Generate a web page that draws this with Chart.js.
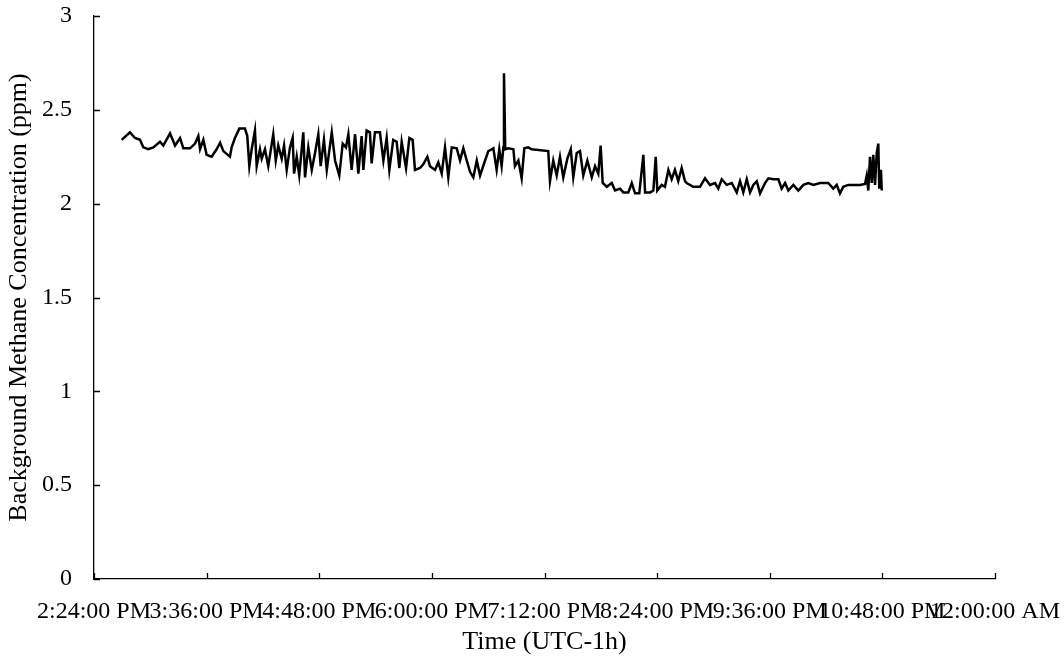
<!DOCTYPE html>
<html>
<head>
<meta charset="utf-8">
<script src="https://cdn.jsdelivr.net/npm/chart.js@4"></script>
<style>
  body { margin: 0; background: #fff; }
  #wrap { width: 1064px; height: 660px; }
</style>
</head>
<body>
<div id="wrap"><canvas id="methane-chart" width="1064" height="660"></canvas></div>
<script>
// time in minutes after midnight (local, UTC-1h)
const times = [
  881.7, 887, 890.2, 893.4, 895.5, 898.7, 901.9, 906.2, 908.3, 912.6,
  915.8, 919, 921.1, 925.4, 928.6, 930.7, 931.8, 933.9, 936, 939.2,
  942.4, 944.6, 946.7, 950.9, 952, 954.1, 956.9, 960.5, 962, 963.3,
  964.8, 966.9, 968, 970.1, 971.2, 973.3, 975.4, 978.6, 980.2, 981.8,
  984, 985.5, 987.2, 989.3, 991, 991.9, 993.6, 995.2, 997.8, 998.9,
  1001, 1003.2, 1005.3, 1007.4, 1008.9, 1011, 1012.8, 1016, 1018.1, 1020.8,
  1023, 1025.1, 1026.6, 1028.7, 1030.9, 1033, 1035.1, 1036.2, 1038.3, 1040.4,
  1041.5, 1043.6, 1046.8, 1049, 1051.1, 1052.8, 1055.3, 1057.5, 1059.2, 1060.7,
  1063.5, 1065.6, 1067.7, 1069.2, 1072.4, 1074.5, 1077.1, 1078.8, 1082, 1084.1,
  1086.3, 1088.4, 1090.5, 1092.7, 1095.9, 1098, 1100.1, 1102.3, 1104.4, 1106.5,
  1108.7, 1110.8, 1114, 1116.1, 1118.3, 1119.3, 1121.4, 1123.1, 1124.6, 1125.7,
  1126.1, 1126.9, 1128.9, 1132.1, 1133.1, 1135.3, 1137.4, 1139.1, 1141.6, 1143.8,
  1154.4, 1155.5, 1157.6, 1159.8, 1161.9, 1164, 1166.6, 1168.8, 1170.4, 1172.6,
  1174.7, 1176.8, 1179.4, 1182.2, 1184.3, 1186.4, 1187.9, 1189.2, 1191.8, 1195,
  1197.1, 1200.3, 1202.4, 1205.6, 1207.8, 1209.9, 1212.6, 1215.2, 1216.3, 1219.5,
  1221.6, 1223.1, 1224.1, 1226.9, 1229, 1231.2, 1233.3, 1235.4, 1237.5, 1239.7,
  1241.8, 1242.9, 1247.1, 1251.4, 1254.6, 1257.8, 1261, 1263.1, 1265.3, 1268.5,
  1271.7, 1274.9, 1277, 1279.1, 1281.3, 1283.4, 1285.5, 1287.7, 1289.8, 1293,
  1295.1, 1298.3, 1301.5, 1303.6, 1305.8, 1307.9, 1311.1, 1314.3, 1317.5, 1320.7,
  1323.9, 1328.1, 1333.4, 1336.6, 1338.8, 1340.9, 1343, 1346.2, 1349.4, 1353.7,
  1356.9, 1358, 1359, 1360.1, 1361.2, 1362.2, 1363.3, 1364.4, 1365.4, 1366,
  1367.1, 1367.6
];

// background methane concentration (ppm)
const methane = [
  2.34, 2.38, 2.35, 2.34, 2.30, 2.29, 2.30, 2.33, 2.31, 2.375,
  2.31, 2.35, 2.295, 2.295, 2.32, 2.36, 2.29, 2.34, 2.26, 2.25,
  2.29, 2.325, 2.28, 2.25, 2.30, 2.35, 2.40, 2.40, 2.36, 2.20,
  2.29, 2.39, 2.20, 2.29, 2.24, 2.29, 2.20, 2.37, 2.23, 2.31,
  2.24, 2.31, 2.18, 2.30, 2.35, 2.16, 2.25, 2.15, 2.38, 2.14,
  2.30, 2.18, 2.27, 2.37, 2.20, 2.34, 2.18, 2.38, 2.23, 2.15,
  2.32, 2.30, 2.37, 2.18, 2.37, 2.16, 2.36, 2.18, 2.39, 2.38,
  2.215, 2.38, 2.38, 2.23, 2.35, 2.18, 2.34, 2.33, 2.19, 2.33,
  2.19, 2.35, 2.34, 2.18, 2.19, 2.21, 2.25, 2.20, 2.18, 2.22,
  2.16, 2.30, 2.14, 2.30, 2.295, 2.23, 2.295, 2.23, 2.17, 2.14,
  2.23, 2.15, 2.23, 2.28, 2.29, 2.295, 2.18, 2.29, 2.20, 2.30,
  2.695, 2.29, 2.295, 2.29, 2.20, 2.23, 2.135, 2.295, 2.30, 2.29,
  2.28, 2.12, 2.23, 2.15, 2.25, 2.14, 2.24, 2.29, 2.14, 2.27,
  2.28, 2.15, 2.23, 2.14, 2.20, 2.16, 2.31, 2.11, 2.09, 2.11,
  2.07, 2.08, 2.06, 2.06, 2.11, 2.055, 2.055, 2.26, 2.06, 2.06,
  2.07, 2.25, 2.07, 2.10, 2.09, 2.18, 2.13, 2.18, 2.12, 2.19,
  2.12, 2.11, 2.09, 2.09, 2.135, 2.10, 2.11, 2.08, 2.13, 2.10,
  2.11, 2.06, 2.12, 2.06, 2.13, 2.06, 2.10, 2.12, 2.055, 2.11,
  2.135, 2.13, 2.13, 2.08, 2.11, 2.07, 2.10, 2.07, 2.10, 2.11,
  2.10, 2.11, 2.11, 2.08, 2.10, 2.055, 2.09, 2.10, 2.10, 2.10,
  2.105, 2.15, 2.07, 2.25, 2.11, 2.26, 2.10, 2.27, 2.32, 2.08,
  2.18, 2.07
];

const xMin = 864;   // 2:24 PM
const xMax = 1440;  // 12:00 AM
const xStep = 72;

function fmtTime(mins) {
  const m = Math.round(mins) % 1440;
  let h = Math.floor(m / 60);
  const mm = String(m % 60).padStart(2, '0');
  const ampm = h >= 12 ? 'PM' : 'AM';
  h = h % 12;
  if (h === 0) h = 12;
  return `${h}:${mm}:00 ${ampm}`;
}

// tick marks drawn inside the plot area, like the original
const innerTicks = {
  id: 'innerTicks',
  afterDraw(chart) {
    const { ctx, scales: { x, y } } = chart;
    ctx.save();
    ctx.strokeStyle = '#000';
    ctx.lineWidth = 1.3;
    ctx.beginPath();
    y.ticks.forEach(t => {
      const py = Math.round(y.getPixelForValue(t.value)) + 0.5;
      ctx.moveTo(x.left, py);
      ctx.lineTo(x.left + 6, py);
    });
    x.ticks.forEach(t => {
      const px = Math.round(x.getPixelForValue(t.value)) + 0.5;
      ctx.moveTo(px, y.bottom);
      ctx.lineTo(px, y.bottom - 6);
    });
    ctx.stroke();
    ctx.restore();
  }
};

const serif = 'Liberation Serif, Times New Roman, serif';

new Chart(document.getElementById('methane-chart').getContext('2d'), {
  type: 'line',
  data: {
    datasets: [{
      data: times.map((t, i) => ({ x: t, y: methane[i] })),
      borderColor: '#000',
      borderWidth: 2.5,
      pointRadius: 0,
      tension: 0,
      fill: false
    }]
  },
  options: {
    responsive: false,
    animation: false,
    layout: { padding: { top: 16, right: 69, left: 0, bottom: 0 } },
    plugins: { legend: { display: false }, tooltip: { enabled: false } },
    scales: {
      x: {
        type: 'linear',
        min: xMin,
        max: xMax,
        afterFit: s => {
          s.height = 81;
          s.paddingLeft = 0;
          s.paddingRight = 0;
        },
        ticks: {
          stepSize: xStep,
          autoSkip: false,
          maxRotation: 0,
          minRotation: 0,
          padding: 18,
          color: '#000',
          font: { family: serif, size: 24 },
          callback: v => fmtTime(v)
        },
        grid: { display: false, drawTicks: false },
        border: { display: true, color: '#000', width: 1.3 },
        title: {
          display: true,
          text: 'Time (UTC-1h)',
          color: '#000',
          font: { family: serif, size: 26 },
          padding: { top: 0, bottom: 2 }
        }
      },
      y: {
        min: 0,
        max: 3,
        afterFit: s => {
          s.width = 94;
          s.paddingTop = 0;
          s.paddingBottom = 0;
        },
        ticks: {
          stepSize: 0.5,
          padding: 22,
          color: '#000',
          font: { family: serif, size: 24 },
          callback: v => String(Math.round(v * 10) / 10)
        },
        grid: { display: false, drawTicks: false },
        border: { display: true, color: '#000', width: 1.3 },
        title: {
          display: true,
          text: 'Background Methane Concentration (ppm)',
          color: '#000',
          font: { family: serif, size: 26 },
          padding: { top: 4, bottom: 0 }
        }
      }
    }
  },
  plugins: [innerTicks]
});
</script>
</body>
</html>
